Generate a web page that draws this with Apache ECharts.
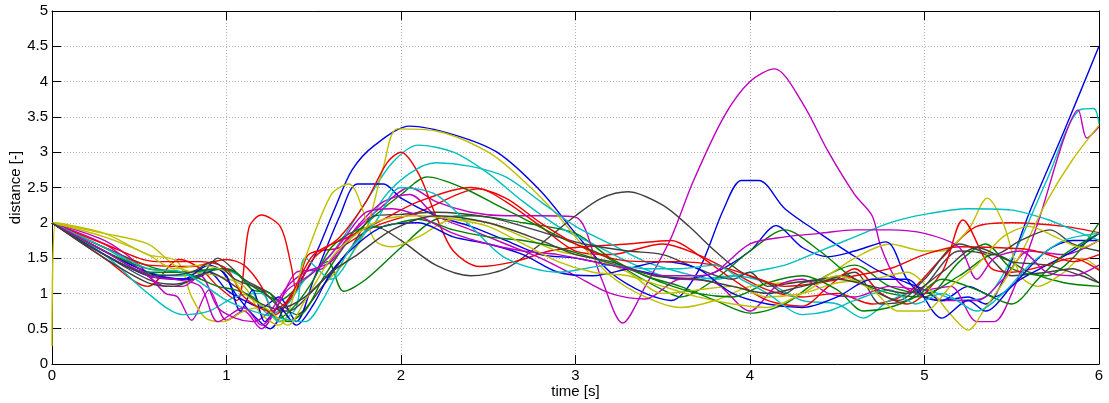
<!DOCTYPE html>
<html>
<head>
<meta charset="utf-8">
<script src="https://cdn.jsdelivr.net/npm/echarts@6/dist/echarts.min.js"></script>
<style>
html,body{margin:0;padding:0;background:#fff;}
#chart{width:1109px;height:403px;}
</style>
</head>
<body>
<div id="chart"></div>
<script>
// Tick labels / axis ranges
const xTicks = [0, 1, 2, 3, 4, 5, 6];
const yTicks = [0, 0.5, 1, 1.5, 2, 2.5, 3, 3.5, 4, 4.5, 5];
const xName = 'time [s]';
const yName = 'distance [-]';

// Series values [time, distance] (MATLAB colour order b,g,r,c,m,y,k)
const b1 = [[0,2],[0.3,1.6],[0.6,1.25],[0.8,1.2],[0.95,1.35],[1.05,1.0],[1.15,0.7],[1.25,0.5],[1.35,0.9],[1.5,1.5],[1.62,2.2],[1.72,2.75],[1.85,3.1],[2.05,3.37],[2.3,3.25],[2.55,3.0],[2.8,2.45],[3.0,1.85],[3.2,1.3],[3.4,1.0],[3.55,0.9],[3.7,1.3],[3.85,2.2],[3.95,2.6],[4.05,2.6],[4.2,2.2],[4.4,1.85],[4.57,1.57],[4.75,1.3],[4.9,1.15],[5.0,1.05],[5.1,0.9],[5.25,0.95],[5.35,0.85],[5.47,1.29],[5.6,2.14],[5.8,3.3],[6,4.5]];
const g1 = [[0,2],[0.3,1.65],[0.6,1.35],[0.8,1.3],[1.0,1.35],[1.15,1.1],[1.3,0.9],[1.45,1.2],[1.58,1.45],[1.67,1.03],[1.8,1.2],[2.0,1.65],[2.2,2.05],[2.4,2.1],[2.7,2.0],[3.0,1.85],[3.2,1.5],[3.4,1.25],[3.6,1.1],[3.8,0.9],[4.0,0.72],[4.2,0.85],[4.4,1.2],[4.6,1.4],[4.8,1.1],[5.0,1.0],[5.2,1.25],[5.4,1.55],[5.6,1.3],[5.8,1.15],[6,1.1]];
const r1 = [[0,2],[0.3,1.5],[0.55,1.1],[0.73,1.48],[0.85,1.35],[0.95,1.1],[1.06,0.9],[1.13,1.94],[1.2,2.11],[1.31,1.94],[1.37,1.4],[1.4,1.05],[1.47,1.55],[1.65,1.65],[1.85,1.95],[2.1,2.15],[2.45,2.48],[2.6,2.3],[2.8,1.95],[3.0,1.6],[3.2,1.55],[3.5,1.7],[3.7,1.55],[3.9,1.3],[4.1,1.05],[4.3,0.95],[4.5,1.0],[4.7,0.85],[4.9,1.0],[5.1,1.5],[5.3,1.95],[5.5,2.0],[5.8,1.95],[6,1.86]];
const c1 = [[0,2],[0.3,1.65],[0.55,1.3],[0.75,1.25],[0.95,1.35],[1.1,1.2],[1.25,0.7],[1.35,0.85],[1.45,1.2],[1.6,1.55],[1.8,2.3],[1.95,2.85],[2.1,3.1],[2.3,3.0],[2.5,2.7],[2.7,2.3],[2.9,1.95],[3.1,1.7],[3.3,1.45],[3.5,1.25],[3.7,1.2],[3.9,1.25],[4.1,1.15],[4.3,0.9],[4.5,0.85],[4.65,0.65],[4.8,0.9],[5.0,1.05],[5.2,0.9],[5.35,0.95],[5.5,1.5],[5.7,2.6],[5.89,3.6],[5.97,3.62],[6,3.4]];
const m1 = [[0,2],[0.3,1.75],[0.5,1.4],[0.65,1.0],[0.72,0.95],[0.8,0.62],[0.9,1.05],[1.0,0.62],[1.1,0.75],[1.2,0.5],[1.3,0.85],[1.4,1.3],[1.55,1.35],[1.7,1.8],[1.9,2.25],[2.05,2.5],[2.2,2.3],[2.4,2.15],[2.6,2.1],[2.8,2.1],[3.0,2.08],[3.15,1.2],[3.27,0.58],[3.4,1.1],[3.55,1.8],[3.67,2.56],[3.85,3.5],[4.0,4.0],[4.14,4.18],[4.3,3.7],[4.45,3.0],[4.6,2.4],[4.7,2.1],[4.75,1.66],[4.84,1.19],[4.95,1.0],[5.1,0.9],[5.3,0.9],[5.45,1.2],[5.6,1.6],[5.8,1.55],[6,1.75]];
const y1 = [[0,0.25],[0.02,2.0],[0.3,1.85],[0.55,1.55],[0.72,1.45],[0.8,0.95],[0.88,0.65],[0.98,0.6],[1.1,0.75],[1.2,0.8],[1.3,0.6],[1.4,0.65],[1.55,1.1],[1.7,1.5],[1.8,1.9],[1.9,2.8],[1.98,3.33],[2.2,3.3],[2.5,3.0],[2.7,2.6],[2.9,2.1],[3.05,1.65],[3.2,1.25],[3.4,0.95],[3.6,0.8],[3.8,0.9],[4.0,1.1],[4.2,1.15],[4.4,1.2],[4.6,1.5],[4.8,1.7],[5.0,1.6],[5.1,1.6],[5.25,1.9],[5.36,2.35],[5.45,2.0],[5.55,1.25],[5.65,1.1],[5.8,1.3],[5.9,1.5],[6,1.35]];
const k1 = [[0,2],[0.3,1.55],[0.55,1.2],[0.7,1.13],[0.85,1.25],[0.95,1.5],[1.1,1.2],[1.25,1.0],[1.4,0.7],[1.55,1.1],[1.7,1.6],[1.85,1.95],[2.0,1.75],[2.2,1.4],[2.4,1.25],[2.6,1.35],[2.8,1.7],[3.0,2.1],[3.15,2.35],[3.3,2.44],[3.5,2.25],[3.65,1.95],[3.8,1.6],[3.95,1.3],[4.1,1.15],[4.2,1.0],[4.3,1.15],[4.45,1.2],[4.6,1.3],[4.75,0.85],[4.9,0.9],[5.0,1.1],[5.2,1.6],[5.35,1.55],[5.5,1.25],[5.7,1.3],[5.85,1.35],[6,1.15]];
const b2 = [[0,2],[0.3,1.6],[0.55,1.3],[0.75,1.2],[0.9,1.3],[1.0,1.05],[1.1,0.9],[1.2,0.8],[1.3,0.95],[1.4,0.6],[1.5,1.2],[1.65,2.1],[1.75,2.55],[1.9,2.55],[2.0,2.35],[2.2,2.1],[2.4,1.95],[2.6,1.75],[2.8,1.55],[3.0,1.5],[3.2,1.4],[3.4,1.3],[3.6,1.2],[3.8,1.3],[4.0,1.6],[4.15,1.96],[4.3,1.65],[4.45,1.52],[4.6,1.6],[4.78,1.73],[4.9,1.2],[5.0,0.95],[5.1,0.9],[5.25,1.1],[5.4,0.95],[5.55,1.2],[5.7,1.4],[5.85,1.6],[6,1.85]];
const g2 = [[0,2],[0.3,1.6],[0.55,1.3],[0.75,1.3],[0.95,1.35],[1.05,1.3],[1.15,1.05],[1.25,1.0],[1.35,0.6],[1.45,0.75],[1.55,1.2],[1.7,1.75],[1.85,2.1],[2.0,2.4],[2.15,2.65],[2.35,2.5],[2.55,2.25],[2.75,2.0],[2.95,1.75],[3.15,1.55],[3.35,1.25],[3.5,1.05],[3.6,0.95],[3.8,1.2],[4.0,1.6],[4.2,1.9],[4.4,1.6],[4.6,1.2],[4.8,1.0],[5.0,0.95],[5.2,1.45],[5.35,1.7],[5.5,1.35],[5.7,1.25],[5.85,1.5],[6,2.0]];
const r2 = [[0,2],[0.3,1.65],[0.55,1.4],[0.8,1.38],[1.0,1.48],[1.1,1.4],[1.2,1.1],[1.28,0.7],[1.4,1.05],[1.5,1.5],[1.65,1.8],[1.8,2.3],[1.92,2.85],[2.0,3.0],[2.1,2.7],[2.2,2.1],[2.3,1.6],[2.45,1.38],[2.65,1.45],[2.85,1.6],[3.0,1.65],[3.3,1.7],[3.55,1.75],[3.7,1.55],[3.9,1.2],[4.1,0.9],[4.3,0.82],[4.45,1.1],[4.6,1.35],[4.75,1.0],[4.9,0.85],[5.1,1.3],[5.22,2.04],[5.38,1.36],[5.5,1.3],[5.7,1.4],[5.85,1.5],[6,1.33]];
const c2 = [[0,2],[0.3,1.55],[0.55,1.0],[0.75,0.7],[0.9,0.75],[1.05,0.95],[1.2,1.0],[1.3,0.6],[1.4,0.8],[1.45,1.5],[1.6,1.2],[1.75,1.7],[1.9,2.35],[2.05,2.7],[2.2,2.85],[2.4,2.8],[2.6,2.65],[2.8,2.3],[3.0,1.95],[3.2,1.7],[3.4,1.45],[3.6,1.3],[3.8,1.2],[4.0,1.3],[4.2,1.4],[4.4,1.6],[4.6,1.8],[4.8,2.0],[5.0,2.12],[5.25,2.2],[5.5,2.18],[5.7,2.05],[5.85,1.9],[6,1.75]];
const m2 = [[0,2],[0.3,1.7],[0.5,1.35],[0.65,1.1],[0.75,1.1],[0.85,1.25],[0.95,0.8],[1.05,0.65],[1.15,0.6],[1.25,0.75],[1.35,1.1],[1.45,1.3],[1.6,1.45],[1.75,1.95],[1.9,2.3],[2.05,2.4],[2.2,2.1],[2.4,1.9],[2.6,1.7],[2.8,1.5],[3.0,1.25],[3.2,1.0],[3.4,0.92],[3.6,1.2],[3.8,1.15],[4.0,0.75],[4.15,1.1],[4.3,1.2],[4.45,1.0],[4.6,0.95],[4.8,1.1],[5.0,1.05],[5.15,1.1],[5.3,0.6],[5.4,0.6],[5.5,1.0],[5.65,2.0],[5.8,3.2],[5.88,3.6],[5.93,3.2],[6,3.36]];
const y2 = [[0,2],[0.3,1.85],[0.55,1.7],[0.7,1.4],[0.8,1.3],[0.95,1.25],[1.1,1.1],[1.2,0.7],[1.3,0.55],[1.45,1.5],[1.6,2.4],[1.7,2.55],[1.85,1.75],[1.95,1.66],[2.1,1.8],[2.3,2.05],[2.5,2.0],[2.7,1.8],[2.9,1.6],[3.1,1.5],[3.3,1.3],[3.5,1.0],[3.7,1.05],[3.9,1.1],[4.1,0.95],[4.3,1.0],[4.5,1.15],[4.7,1.2],[4.9,1.3],[5.05,1.0],[5.15,0.7],[5.25,0.48],[5.35,0.8],[5.45,1.15],[5.55,1.55],[5.7,2.3],[5.85,2.9],[6,3.38]];
const k2 = [[0,2],[0.3,1.5],[0.55,1.15],[0.7,1.1],[0.9,1.3],[1.05,1.1],[1.2,0.85],[1.35,0.75],[1.5,1.05],[1.7,1.6],[1.85,2.1],[2.0,2.12],[2.2,2.15],[2.5,2.08],[2.7,1.95],[2.9,1.8],[3.05,1.7],[3.3,1.6],[3.5,1.55],[3.7,1.35],[3.9,1.2],[4.0,1.3],[4.1,1.1],[4.25,1.15],[4.4,1.2],[4.55,1.25],[4.7,1.05],[4.85,0.9],[5.0,1.2],[5.2,1.7],[5.4,1.55],[5.55,1.75],[5.72,1.9],[5.85,1.7],[6,1.6]];
const b3 = [[0,2],[0.3,1.55],[0.55,1.25],[0.75,1.2],[0.9,1.4],[1.0,1.25],[1.08,0.75],[1.15,1.05],[1.22,0.6],[1.3,0.8],[1.4,0.55],[1.5,0.85],[1.6,1.3],[1.75,1.7],[1.9,1.95],[2.1,2.0],[2.3,1.8],[2.5,1.7],[2.7,1.55],[2.9,1.3],[3.1,1.25],[3.3,1.35],[3.5,1.45],[3.7,1.35],[3.9,1.0],[4.1,0.85],[4.3,0.8],[4.5,0.95],[4.7,1.2],[4.9,1.2],[5.1,0.65],[5.25,0.9],[5.35,0.75],[5.5,1.1],[5.7,1.6],[5.85,1.75],[6,1.75]];
const g3 = [[0,2],[0.3,1.6],[0.55,1.35],[0.75,1.3],[0.95,1.1],[1.05,1.05],[1.15,0.95],[1.3,0.65],[1.4,0.85],[1.5,1.2],[1.6,1.65],[1.75,1.9],[1.9,1.95],[2.1,2.05],[2.3,1.9],[2.5,1.8],[2.7,1.75],[2.9,1.65],[3.1,1.5],[3.3,1.35],[3.5,1.15],[3.7,1.0],[3.9,0.95],[4.1,1.15],[4.3,1.25],[4.5,1.05],[4.65,0.75],[4.8,0.8],[4.95,0.95],[5.1,1.2],[5.3,1.05],[5.5,0.85],[5.65,1.2],[5.8,1.55],[6,1.85]];
const r3 = [[0,2],[0.3,1.7],[0.6,1.45],[0.85,1.45],[1.0,1.35],[1.1,0.95],[1.25,0.75],[1.35,0.9],[1.5,1.55],[1.7,1.8],[1.9,2.05],[2.1,2.3],[2.4,2.5],[2.6,2.35],[2.8,2.0],[3.0,1.7],[3.2,1.5],[3.4,1.45],[3.6,1.45],[3.8,1.4],[4.0,1.25],[4.2,1.1],[4.4,1.15],[4.6,1.25],[4.8,1.35],[5.0,1.55],[5.2,1.66],[5.4,1.65],[5.6,1.62],[5.72,1.54],[5.85,1.45],[6,1.55]];
const c3 = [[0,2],[0.3,1.65],[0.55,1.35],[0.75,1.3],[1.0,0.9],[1.15,0.75],[1.3,0.65],[1.45,0.6],[1.55,0.9],[1.7,1.6],[1.85,2.0],[2.0,2.5],[2.2,2.4],[2.4,1.95],[2.6,1.5],[2.9,1.3],[3.2,1.4],[3.4,1.35],[3.6,1.35],[3.8,1.4],[3.95,1.2],[4.1,1.0],[4.3,0.7],[4.45,0.75],[4.6,0.9],[4.8,1.05],[4.95,0.85],[5.1,1.0],[5.3,0.75],[5.45,1.0],[5.6,1.4],[5.8,1.75],[6,1.85]];
const m3 = [[0,2],[0.3,1.6],[0.55,1.25],[0.7,1.2],[0.85,1.1],[0.95,0.6],[1.1,0.8],[1.2,0.55],[1.35,1.05],[1.5,1.3],[1.65,1.7],[1.8,2.15],[1.95,2.2],[2.1,2.1],[2.3,1.85],[2.5,1.7],[2.7,1.6],[2.9,1.55],[3.1,1.45],[3.3,1.35],[3.5,1.25],[3.7,1.25],[3.8,1.3],[4.0,1.7],[4.2,1.8],[4.4,1.85],[4.6,1.9],[4.8,1.9],[5.0,1.85],[5.2,1.65],[5.3,1.2],[5.4,1.5],[5.55,1.6],[5.7,1.3],[5.85,1.25],[6,1.4]];
const y3 = [[0,2],[0.3,1.8],[0.55,1.55],[0.7,1.35],[0.85,1.4],[1.0,1.3],[1.1,1.0],[1.25,0.75],[1.35,0.55],[1.45,0.9],[1.6,1.5],[1.75,1.85],[1.9,2.05],[2.1,2.1],[2.3,2.05],[2.5,1.95],[2.7,1.7],[2.9,1.45],[3.1,1.3],[3.3,1.25],[3.5,1.1],[3.7,0.95],[3.9,0.85],[4.1,0.8],[4.3,1.0],[4.5,1.25],[4.7,1.05],[4.85,0.75],[5.0,0.75],[5.15,1.1],[5.3,1.4],[5.45,1.8],[5.6,1.95],[5.75,1.8],[5.9,1.65],[6,1.75]];
const k3 = [[0,2],[0.3,1.55],[0.6,1.25],[0.8,1.3],[0.92,1.45],[1.05,1.2],[1.2,1.05],[1.32,0.8],[1.45,0.95],[1.6,1.3],[1.75,1.55],[1.95,1.9],[2.2,2.1],[2.5,2.0],[2.8,1.75],[3.0,1.55],[3.2,1.45],[3.45,1.25],[3.7,1.2],[3.9,1.1],[4.1,1.0],[4.3,1.1],[4.5,1.2],[4.7,1.1],[4.9,1.0],[5.1,1.3],[5.3,1.65],[5.5,1.45],[5.7,1.4],[5.9,1.25],[6,1.15]];

const seriesList = [b1,g1,r1,c1,m1,y1,k1,b2,g2,r2,c2,m2,y2,k2,b3,g3,r3,c3,m3,y3,k3];
const palette = ['#0000e6','#008000','#f00000','#00bfbf','#bf00bf','#bfbf00','#404040'];

const chart = echarts.init(document.getElementById('chart'), null, {renderer: 'canvas'});
const font = 'Liberation Sans, Arial, sans-serif';
const axisCommon = {
  type: 'value',
  axisLine: {show: true, onZero: false, lineStyle: {color: '#000', width: 1}},
  axisTick: {show: true, inside: true, length: 9, lineStyle: {color: '#000', width: 1}},
};
const option = {
  animation: false,
  backgroundColor: '#fff',
  grid: {left: 52, right: 10, top: 11, bottom: 39, containLabel: false, outerBoundsMode: 'none'},
  xAxis: [
    Object.assign({}, axisCommon, {
      min: xTicks[0], max: xTicks[xTicks.length - 1], interval: 1, position: 'bottom',
      name: xName, nameLocation: 'middle', nameGap: 20, nameMoveOverlap: false,
      nameTextStyle: {color: '#000', fontSize: 15, fontFamily: font},
      axisLabel: {color: '#000', fontSize: 15, fontFamily: font, margin: 4},
      splitLine: {show: true, lineStyle: {color: '#b0b0b0', type: [1, 2], width: 1}}
    }),
    Object.assign({}, axisCommon, {
      min: xTicks[0], max: xTicks[xTicks.length - 1], interval: 1, position: 'top',
      axisLabel: {show: false}, splitLine: {show: false}
    })
  ],
  yAxis: [
    Object.assign({}, axisCommon, {
      min: yTicks[0], max: yTicks[yTicks.length - 1], interval: 0.5, position: 'left',
      name: yName, nameLocation: 'middle', nameGap: 29, nameRotate: 90, nameMoveOverlap: false,
      nameTextStyle: {color: '#000', fontSize: 15, fontFamily: font},
      axisLabel: {color: '#000', fontSize: 15, fontFamily: font, margin: 4},
      splitLine: {show: true, lineStyle: {color: '#b0b0b0', type: [1, 2], width: 1}}
    }),
    Object.assign({}, axisCommon, {
      min: yTicks[0], max: yTicks[yTicks.length - 1], interval: 0.5, position: 'right',
      axisLabel: {show: false}, splitLine: {show: false}
    })
  ],
  series: seriesList.map((d, i) => ({
    type: 'line',
    data: d,
    xAxisIndex: 0,
    yAxisIndex: 0,
    showSymbol: false,
    smooth: 0.3,
    lineStyle: {color: palette[i % palette.length], width: 1.4},
    itemStyle: {color: palette[i % palette.length]},
    z: 2
  }))
};
chart.setOption(option);
</script>
</body>
</html>
